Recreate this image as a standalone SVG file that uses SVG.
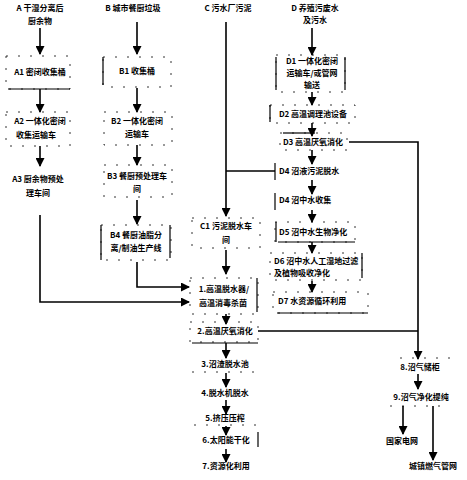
<svg xmlns="http://www.w3.org/2000/svg" width="467" height="480" viewBox="0 0 467 480">
<style>
text{font-family:"Noto Sans CJK SC","Liberation Sans",sans-serif;font-size:8px;font-weight:bold;fill:#000}
.m{text-anchor:middle}
.box{fill:none;stroke:#000;stroke-width:0.8;stroke-dasharray:2 10}
.sl{stroke:#000;stroke-width:1.2;fill:none}
.c{stroke:#000;stroke-width:1.6;fill:none}
.a{stroke:#000;stroke-width:1.6;fill:none;marker-end:url(#ah)}
</style>
<defs>
<marker id="ah" markerUnits="userSpaceOnUse" markerWidth="9" markerHeight="9" refX="8" refY="4.5" orient="auto">
<path d="M0,0 L9,4.5 L0,9 Z" fill="#000"/>
</marker>
</defs>
<rect width="467" height="480" fill="#fff"/>

<g id="connectors">
<line class="a" x1="40" y1="28" x2="40" y2="54"/>
<line class="a" x1="40" y1="89" x2="40" y2="112"/>
<line class="a" x1="40" y1="146" x2="40" y2="166"/>
<polyline class="a" points="40,215 40,302 189,302"/>
<line class="a" x1="137" y1="22" x2="137" y2="54"/>
<line class="a" x1="137" y1="88" x2="137" y2="112"/>
<line class="a" x1="137" y1="145" x2="137" y2="165"/>
<line class="a" x1="137" y1="200" x2="137" y2="224"/>
<polyline class="a" points="137,262 137,287 189,287"/>
<line class="a" x1="226" y1="22" x2="226" y2="216"/>
<line class="c" x1="275" y1="171" x2="226" y2="171"/>
<line class="a" x1="226" y1="250" x2="226" y2="274"/>
<line class="a" x1="226" y1="314" x2="226" y2="324"/>
<line class="a" x1="226" y1="343" x2="226" y2="358"/>
<line class="a" x1="226" y1="373" x2="226" y2="387"/>
<line class="a" x1="226" y1="400" x2="226" y2="414"/>
<line class="a" x1="226" y1="426" x2="226" y2="435"/>
<line class="a" x1="226" y1="449" x2="226" y2="462"/>
<line class="a" x1="312" y1="28" x2="312" y2="55"/>
<line class="a" x1="312" y1="92" x2="312" y2="105"/>
<line class="a" x1="312" y1="123" x2="312" y2="136"/>
<line class="a" x1="312" y1="150" x2="312" y2="164"/>
<line class="a" x1="312" y1="180" x2="312" y2="194"/>
<line class="a" x1="312" y1="210" x2="312" y2="222"/>
<line class="a" x1="312" y1="242" x2="312" y2="253"/>
<line class="a" x1="312" y1="281" x2="312" y2="292"/>
<polyline class="a" points="349,142 418,142 418,359"/>
<line class="c" x1="258" y1="331" x2="418" y2="331"/>
<line class="a" x1="418" y1="374" x2="418" y2="389"/>
<line class="a" x1="403" y1="406" x2="403" y2="434"/>
<line class="a" x1="433" y1="406" x2="433" y2="460"/>
</g>

<g id="A">
<text class="m" x="40" y="11">A 干湿分离后</text>
<text class="m" x="40" y="24">厨余物</text>
</g>
<g id="A1">
<rect class="box" x="6" y="56" width="64" height="33"/>
<line class="sl" x1="8" y1="89" x2="70" y2="89"/>
<text class="m" x="40" y="75">A1 密闭收集桶</text>
</g>
<g id="A2">
<rect class="box" x="6" y="112" width="64" height="34"/>
<text class="m" x="40" y="124">A2 一体化密闭</text>
<text class="m" x="36" y="138">收集运输车</text>
</g>
<g id="A3">
<text class="m" x="38" y="182">A3 厨余物预处</text>
<text class="m" x="38" y="196">理车间</text>
</g>

<g id="B">
<text class="m" x="133" y="11">B 城市餐厨垃圾</text>
</g>
<g id="B1">
<rect class="box" x="103" y="57" width="68" height="30"/>
<line class="sl" x1="103" y1="57" x2="103" y2="85"/>
<text class="m" x="137" y="74">B1 收集桶</text>
</g>
<g id="B2">
<rect class="box" x="104" y="112" width="68" height="33"/>
<text class="m" x="137" y="124">B2 一体化密闭</text>
<text class="m" x="137" y="137">运输车</text>
</g>
<g id="B3">
<rect class="box" x="104" y="165" width="68" height="32"/>
<text class="m" x="137" y="179">B3 餐厨预处理车</text>
<text class="m" x="137" y="192">间</text>
</g>
<g id="B4">
<rect class="box" x="101" y="225" width="70" height="35"/>
<line class="sl" x1="101" y1="225" x2="101" y2="260"/>
<line class="sl" x1="170" y1="225" x2="170" y2="258"/>
<text class="m" x="136" y="238">B4 餐厨油脂分</text>
<text class="m" x="136" y="251">离/制油生产线</text>
</g>

<g id="C">
<text class="m" x="228" y="11">C 污水厂污泥</text>
</g>
<g id="C1">
<rect class="box" x="192" y="218" width="68" height="30"/>
<text class="m" x="226" y="229">C1 污泥脱水车</text>
<text class="m" x="226" y="243">间</text>
</g>
<g id="N1">
<rect class="box" x="190" y="278" width="68" height="36"/>
<line class="sl" x1="257" y1="278" x2="257" y2="312"/>
<text class="m" x="224" y="292">1.高温脱水器/</text>
<text class="m" x="223" y="306">高温消毒杀菌</text>
</g>
<g id="N2">
<rect class="box" x="190" y="322" width="68" height="20"/>
<line class="sl" x1="192" y1="343" x2="258" y2="343"/>
<text class="m" x="225" y="334">2.高温厌氧消化</text>
</g>
<g id="N3">
<line class="box" x1="192" y1="372" x2="258" y2="372"/>
<text class="m" x="225" y="367">3.沼渣脱水池</text>
</g>
<g id="N4">
<text class="m" x="225" y="396">4.脱水机脱水</text>
</g>
<g id="N5">
<line class="box" x1="194" y1="425" x2="258" y2="425"/>
<text class="m" x="225" y="421">5.挤压压榨</text>
</g>
<g id="N6">
<line class="sl" x1="258" y1="432" x2="258" y2="447"/>
<text class="m" x="226" y="443">6.太阳能干化</text>
</g>
<g id="N7">
<text class="m" x="226" y="469">7.资源化利用</text>
</g>

<g id="D">
<text class="m" x="315" y="11">D 养殖污废水</text>
<text class="m" x="315" y="23">及污水</text>
</g>
<g id="D1">
<rect class="box" x="276" y="55" width="69" height="37"/>
<line class="sl" x1="276" y1="57" x2="276" y2="90"/>
<line class="sl" x1="345" y1="57" x2="345" y2="90"/>
<text class="m" x="312" y="64">D1 一体化密闭</text>
<text class="m" x="312" y="76">运输车/或管网</text>
<text class="m" x="312" y="88">输送</text>
</g>
<g id="D2">
<rect class="box" x="270" y="105" width="85" height="18"/>
<line class="sl" x1="270" y1="105" x2="270" y2="122"/>
<text class="m" x="313" y="117">D2 高温调理池设备</text>
</g>
<g id="D3">
<rect class="box" x="280" y="133" width="67" height="17"/>
<line class="sl" x1="283" y1="133" x2="315" y2="133"/>
<text class="m" x="313" y="145">D3 高温厌氧消化</text>
</g>
<g id="D4a">
<line class="sl" x1="275" y1="163" x2="275" y2="180"/>
<text x="279" y="174">D4 沼液污泥脱水</text>
</g>
<g id="D4b">
<line class="sl" x1="275" y1="193" x2="275" y2="210"/>
<text x="279" y="203">D4 沼中水收集</text>
</g>
<g id="D5">
<rect class="box" x="275" y="222" width="80" height="20"/>
<line class="sl" x1="276" y1="222" x2="276" y2="242"/>
<line class="sl" x1="278" y1="242" x2="355" y2="242"/>
<text x="279" y="235">D5 沼中水生物净化</text>
</g>
<g id="D6">
<rect class="box" x="270" y="253" width="92" height="27"/>
<line class="sl" x1="362" y1="253" x2="362" y2="278"/>
<text x="274" y="264">D6 沼中水人工湿地过滤</text>
<text x="274" y="276">及植物吸收净化</text>
</g>
<g id="D7">
<rect class="box" x="273" y="292" width="95" height="21"/>
<line class="sl" x1="277" y1="313" x2="368" y2="313"/>
<text x="278" y="304">D7 水资源循环利用</text>
</g>

<g id="N8">
<line class="box" x1="400" y1="358" x2="456" y2="358"/>
<text class="m" x="420" y="370">8.沼气储柜</text>
</g>
<g id="N9">
<line class="box" x1="390" y1="406" x2="442" y2="406"/>
<text class="m" x="421" y="400">9.沼气净化提纯</text>
</g>
<g id="E1">
<text class="m" x="402" y="444">国家电网</text>
</g>
<g id="E2">
<text class="m" x="433" y="469">城镇燃气管网</text>
</g>
</svg>
